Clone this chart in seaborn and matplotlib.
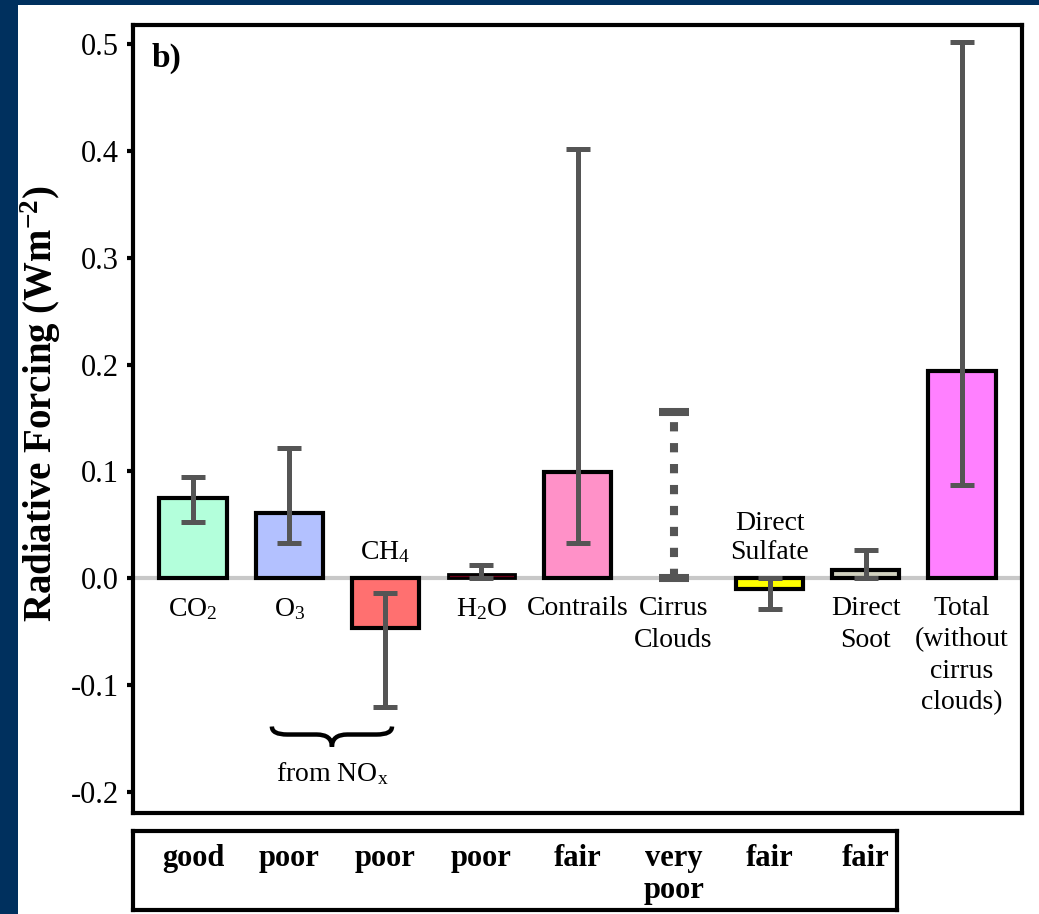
import numpy as np
import pandas as pd
import matplotlib
matplotlib.use("Agg")
import matplotlib.pyplot as plt
from matplotlib.patches import Rectangle, PathPatch
from matplotlib.path import Path
import seaborn as sns

# ---------------- data ----------------
categories = ["CO2", "O3", "CH4", "H2O", "Contrails", "Cirrus Clouds",
              "Direct Sulfate", "Direct Soot", "Total"]
display_labels = ["CO$_2$", "O$_3$", "CH$_4$", "H$_2$O", "Contrails",
                  "Cirrus\nClouds", "Direct\nSulfate", "Direct\nSoot",
                  "Total\n(without\ncirrus\nclouds)"]
label_above = [False, False, True, False, False, False, True, False, False]
values = [0.075, 0.061, -0.047, 0.004, 0.099, 0.0, -0.010, 0.008, 0.194]
err_low = [0.053, 0.033, -0.121, 0.0, 0.033, 0.0, -0.029, 0.0, 0.087]
err_high = [0.095, 0.122, -0.014, 0.012, 0.402, 0.156, 0.0, 0.026, 0.502]
has_bar = [True, True, True, True, True, False, True, True, True]
bar_colors = ["#b3ffdb", "#b3c1ff", "#ff7070", "#6a0018", "#ff91c8",
              "#ffffff", "#ffff00", "#d2d2c0", "#ff80ff"]
quality = ["good", "poor", "poor", "poor", "fair", "very\npoor", "fair", "fair"]
yticks = [-0.2, -0.1, 0.0, 0.1, 0.2, 0.3, 0.4, 0.5]
brace_text = "from NO$_\\mathrm{x}$"

# ---------------- style ----------------
sns.set_style("white")
plt.rcParams["font.family"] = ["Liberation Serif", "DejaVu Serif"]
plt.rcParams["mathtext.fontset"] = "custom"
plt.rcParams["mathtext.rm"] = "Liberation Serif"
plt.rcParams["mathtext.it"] = "Liberation Serif:italic"
plt.rcParams["mathtext.bf"] = "Liberation Serif:bold"
plt.rcParams["axes.unicode_minus"] = False
for k in ["text.color", "axes.labelcolor", "xtick.color", "ytick.color"]:
    plt.rcParams[k] = "black"

fig = plt.figure(figsize=(10.39, 9.14), dpi=100, facecolor="#00305e")
fig.patches.append(Rectangle((18 / 1039, 0), 1, 1 - 5 / 914,
                             transform=fig.transFigure, facecolor="white",
                             edgecolor="none", zorder=-5))

ax = fig.add_axes([133 / 1039, 1 - 813 / 914, 889 / 1039, (813 - 25) / 914])
ax.set_facecolor("white")

df = pd.DataFrame({"cat": categories, "val": values})
sns.barplot(data=df, x="cat", y="val", hue="cat", order=categories,
            hue_order=categories, palette=dict(zip(categories, bar_colors)),
            width=0.70, edgecolor="black", linewidth=3, legend=False,
            saturation=1, ax=ax, zorder=2)
for patch, hb, v in zip(ax.patches, has_bar, values):
    if not hb:
        patch.set_visible(False)
    elif abs(v) < 0.006:
        patch.set_linewidth(2)

ax.axhline(0, color="#c8c8c8", lw=3, zorder=1)

xpos = np.arange(len(categories))
for i in range(len(categories)):
    mid = values[i]
    lo = mid - err_low[i]
    hi = err_high[i] - mid
    if has_bar[i]:
        ax.errorbar(xpos[i], mid, yerr=[[lo], [hi]], fmt="none",
                    ecolor="#555555", elinewidth=3.6, capsize=8.5,
                    capthick=3.6, zorder=3)
    else:
        eb = ax.errorbar(xpos[i], mid, yerr=[[lo], [hi]], fmt="none",
                         ecolor="#555555", elinewidth=5.8, capsize=11,
                         capthick=5.8, zorder=3)
        for lc in eb[2]:
            lc.set_linestyle((0, (1.15, 1.45)))

ax.set_xlim(-0.625, 8.625)
ax.set_ylim(-0.22, 0.518)
ax.set_yticks(yticks)
ax.set_yticklabels([f"{t:.1f}" for t in yticks])
ax.set_xticks([])
ax.set_xlabel("")
ax.tick_params(axis="y", labelsize=22, length=4, width=3, pad=6,
               direction="out", left=True, color="black", labelcolor="black")
for s in ax.spines.values():
    s.set_linewidth(3)
    s.set_color("black")
ax.set_ylabel("Radiative Forcing (Wm$^{\\mathbf{-2}}$)", fontsize=28,
              fontweight="bold", color="black")
ax.yaxis.set_label_coords(-0.079, 0.52)

# category labels
for i, lab in enumerate(display_labels):
    if label_above[i]:
        ax.text(xpos[i], 0.012, lab, ha="center", va="bottom", fontsize=20,
                linespacing=1.2, color="black")
    else:
        ax.text(xpos[i], -0.017, lab, ha="center", va="top", fontsize=20,
                linespacing=1.33, color="black")

ax.text(0.021, 0.978, "b)", transform=ax.transAxes, ha="left", va="top",
        fontsize=24, fontweight="bold", color="black")

# brace under O3 and CH4 (from NOx)
x0 = xpos[1] - 0.18
x1 = xpos[2] + 0.07
xc = (x0 + x1) / 2
yt, ym, yb = -0.139, -0.1465, -0.158
d = 0.16
verts = [(x0, yt), (x0, ym), (x0 + d, ym), (xc - d, ym), (xc, ym), (xc, yb),
         (xc, ym), (xc + d, ym), (x1 - d, ym), (x1, ym), (x1, yt)]
codes = [Path.MOVETO, Path.CURVE3, Path.CURVE3, Path.LINETO, Path.CURVE3,
         Path.CURVE3, Path.CURVE3, Path.CURVE3, Path.LINETO, Path.CURVE3,
         Path.CURVE3]
ax.add_patch(PathPatch(Path(verts, codes), facecolor="none",
                       edgecolor="black", lw=3.2, zorder=3))
ax.text(xc, -0.183, brace_text, ha="center", va="center", fontsize=20,
        color="black")

# quality box
bx = fig.add_axes([133 / 1039, 1 - 910 / 914, 764 / 1039, 79 / 914])
bx.set_xlim(-0.625, -0.625 + 764 / 96.1)
bx.set_ylim(0, 1)
bx.set_xticks([])
bx.set_yticks([])
bx.set_facecolor("white")
for s in bx.spines.values():
    s.set_linewidth(3)
    s.set_color("black")
for i, q in enumerate(quality):
    bx.text(xpos[i], 0.83, q, ha="center", va="top", fontsize=22,
            fontweight="bold", linespacing=1.12, color="black")

fig.savefig("out.png", dpi=100, facecolor=fig.get_facecolor())
